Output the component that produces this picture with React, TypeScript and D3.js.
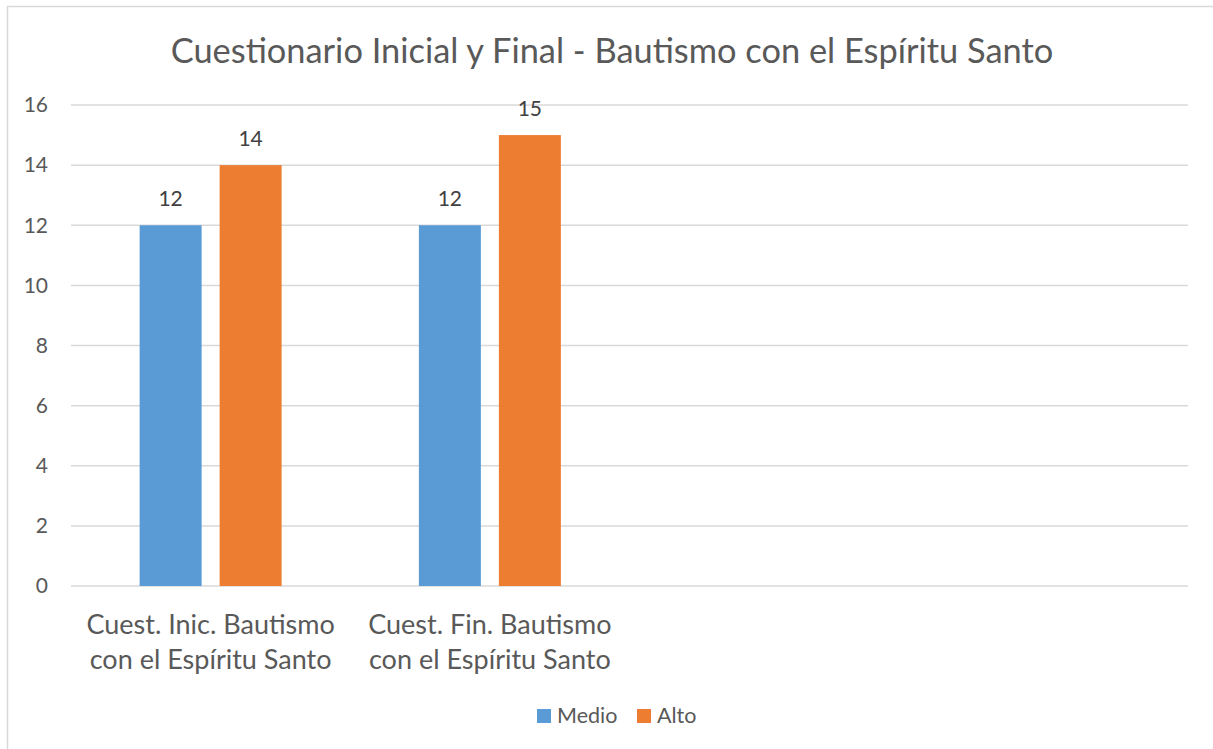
import React from "react";
import * as d3 from "d3";

const title = "Cuestionario Inicial y Final - Bautismo con el Espíritu Santo";
const categories = [
  ["Cuest. Inic. Bautismo", "con el Espíritu Santo"],
  ["Cuest. Fin. Bautismo", "con el Espíritu Santo"],
];
const slotCount = 4;
const seriesNames = ["Medio", "Alto"];
const medio = [12, 12];
const alto = [14, 15];
const yTicks = [0, 2, 4, 6, 8, 10, 12, 14, 16];
const colors = ["#5B9BD5", "#ED7D31"];

const W = 1213;
const H = 749;
const FONT = "Lato, 'Open Sans', sans-serif";
const TXT = "#595959";

export default function App() {
  const plot = { left: 71, right: 1188, top: 105, bottom: 586 };
  const x = d3
    .scaleBand<number>()
    .domain(d3.range(slotCount))
    .range([plot.left, plot.right])
    .paddingInner(0)
    .paddingOuter(0);
  const y = d3.scaleLinear().domain([0, 16]).range([plot.bottom, plot.top]);
  const series = [medio, alto];
  const barW = 62;
  const gap = 18;
  const groupW = barW * 2 + gap;

  return (
    <svg
      width={W}
      height={H}
      style={{ position: "absolute", left: 0, top: 0, background: "#fff" }}
      fontFamily={FONT}
    >
      <rect x={0} y={0} width={W} height={H} fill="#fff" />
      <rect x={7.5} y={6.5} width={1300} height={800} fill="none" stroke="#D9D9D9" strokeWidth={1.5} />
      <text x={612} y={63} textAnchor="middle" fontSize={34.4} fill={TXT}>
        {title}
      </text>
      {yTicks.map((t) => (
        <g key={t}>
          <line x1={plot.left} x2={plot.right} y1={y(t)} y2={y(t)} stroke="#D9D9D9" strokeWidth={1.5} />
          <text x={48} y={y(t)} dy="0.35em" textAnchor="end" fontSize={21} fill={TXT}>
            {t}
          </text>
        </g>
      ))}
      {categories.map((cat, i) => {
        const cx = x(i)! + x.bandwidth() / 2;
        return (
          <g key={i}>
            {series.map((vals, s) => {
              const bx = cx - groupW / 2 + s * (barW + gap);
              return (
                <g key={s}>
                  <rect x={bx} y={y(vals[i])} width={barW} height={y(0) - y(vals[i])} fill={colors[s]} />
                  <text x={bx + barW / 2} y={y(vals[i]) - 19} textAnchor="middle" fontSize={21} fill="#404040">
                    {vals[i]}
                  </text>
                </g>
              );
            })}
            {cat.map((line, li) => (
              <text key={li} x={cx} y={634 + li * 34.5} textAnchor="middle" fontSize={27} fill={TXT}>
                {line}
              </text>
            ))}
          </g>
        );
      })}
      {seriesNames.map((n, s) => {
        const lx = [537, 637][s];
        return (
          <g key={n}>
            <rect x={lx} y={709} width={14} height={14} fill={colors[s]} />
            <text x={lx + 20} y={723} fontSize={21.5} fill={TXT}>
              {n}
            </text>
          </g>
        );
      })}
    </svg>
  );
}
